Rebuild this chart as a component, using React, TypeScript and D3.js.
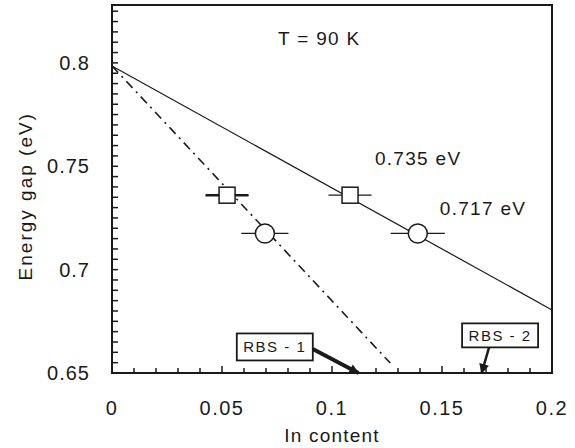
import React, { useEffect, useRef } from 'react';
import * as d3 from 'd3';

// fitted lines (In content, Energy gap)
const solidLine: [number, number][] = [[0, 0.7985], [0.2, 0.6805]];
const dashLine: [number, number][] = [[0, 0.7985], [0.1265, 0.6548]];

// measured points
const squareX = [0.0523, 0.1082];
const squareY = [0.736, 0.736];
const squareErr = [0.0098, 0.0098];
const circleX = [0.0695, 0.139];
const circleY = [0.7175, 0.7175];
const circleErr = [0.0107, 0.0123];

const xTicks = [0, 0.05, 0.1, 0.15, 0.2];
const yTicks = [0.65, 0.7, 0.75, 0.8];

const notes = [
  { text: 'T = 90 K', x: 0.0755, y: 0.8087 },
  { text: '0.735 eV', x: 0.1195, y: 0.7506 },
  { text: '0.717 eV', x: 0.149, y: 0.7264 },
];

const rbsLabels = ['RBS - 1', 'RBS - 2'];
const rbsBoxX = [0.074, 0.1764];
const rbsBoxY = [0.6626, 0.6682];
const rbsTipX = [0.112, 0.168];

function App() {
  const ref = useRef<SVGSVGElement>(null);

  useEffect(() => {
    const W = 575, H = 448;
    const margin = { top: 5, right: 23, bottom: 75, left: 112 };
    const width = W - margin.left - margin.right;
    const height = H - margin.top - margin.bottom;
    const font = 'Liberation Sans, Arial, sans-serif';
    const ink = '#1a1a1a';

    const svg = d3.select(ref.current);
    svg.selectAll('*').remove();

    const x = d3.scaleLinear().domain([0, 0.2]).range([0, width]);
    const y = d3.scaleLinear().domain([0.65, 0.828]).range([height, 0]);

    const defs = svg.append('defs');
    defs.append('marker')
      .attr('id', 'head')
      .attr('viewBox', '0 0 10 10')
      .attr('refX', 9).attr('refY', 5)
      .attr('markerWidth', 12).attr('markerHeight', 10)
      .attr('markerUnits', 'userSpaceOnUse')
      .attr('orient', 'auto')
      .append('path').attr('d', 'M0,0L10,5L0,10z').attr('fill', ink);

    const g = svg.append('g').attr('transform', `translate(${margin.left},${margin.top})`);

    // minor ticks
    const yMinor = d3.range(0.65, 0.8281, 0.005);
    g.selectAll('.ytick').data(yMinor).join('line')
      .attr('x1', 0).attr('x2', 6)
      .attr('y1', d => y(d)).attr('y2', d => y(d))
      .attr('stroke', ink).attr('stroke-width', 1.5);
    const xMinor = d3.range(0, 0.2001, 0.01);
    g.selectAll('.xtick').data(xMinor).join('line')
      .attr('x1', d => x(d)).attr('x2', d => x(d))
      .attr('y1', height).attr('y2', (d, i) => height - (i % 5 === 0 ? 7 : 5))
      .attr('stroke', ink).attr('stroke-width', 1.5);

    // frame
    g.append('rect')
      .attr('width', width).attr('height', height)
      .attr('fill', 'none').attr('stroke', ink).attr('stroke-width', 2);

    // tick labels
    g.selectAll('.ylab').data(yTicks).join('text')
      .attr('x', -22).attr('y', d => y(d)).attr('dy', '0.36em')
      .attr('text-anchor', 'end')
      .style('font-family', font).style('font-size', '20px').style('letter-spacing', '1px')
      .attr('fill', ink)
      .text(d => d3.format('')(d));
    g.selectAll('.xlab').data(xTicks).join('text')
      .attr('x', d => x(d)).attr('y', height + 42)
      .attr('text-anchor', 'middle')
      .style('font-family', font).style('font-size', '20px').style('letter-spacing', '1.5px')
      .attr('fill', ink)
      .text(d => d3.format('')(d));

    // axis titles
    g.append('text')
      .attr('x', x(0.1)).attr('y', height + 69)
      .attr('text-anchor', 'middle')
      .style('font-family', font).style('font-size', '19px').style('letter-spacing', '1.2px')
      .attr('fill', ink)
      .text('In content');
    g.append('text')
      .attr('transform', `translate(${32 - margin.left},${y(0.7355)}) rotate(-90)`)
      .attr('text-anchor', 'middle')
      .style('font-family', font).style('font-size', '19px').style('letter-spacing', '2px')
      .attr('fill', ink)
      .text('Energy gap (eV)');

    // lines
    const line = d3.line<[number, number]>().x(d => x(d[0])).y(d => y(d[1]));
    g.append('path').attr('d', line(solidLine))
      .attr('fill', 'none').attr('stroke', ink).attr('stroke-width', 1.2);
    g.append('path').attr('d', line(dashLine))
      .attr('fill', 'none').attr('stroke', ink).attr('stroke-width', 1.6)
      .attr('stroke-dasharray', '9,5,2,5');

    // error bars + squares
    squareX.forEach((v, i) => {
      g.append('line')
        .attr('x1', x(v - squareErr[i])).attr('x2', x(v + squareErr[i]))
        .attr('y1', y(squareY[i])).attr('y2', y(squareY[i]))
        .attr('stroke', ink).attr('stroke-width', i === 0 ? 2.5 : 1.2);
      g.append('rect')
        .attr('x', x(v) - 8).attr('y', y(squareY[i]) - 8)
        .attr('width', 16).attr('height', 16)
        .attr('fill', 'white').attr('stroke', ink).attr('stroke-width', 1.5);
    });
    circleX.forEach((v, i) => {
      g.append('line')
        .attr('x1', x(v - circleErr[i])).attr('x2', x(v + circleErr[i]))
        .attr('y1', y(circleY[i])).attr('y2', y(circleY[i]))
        .attr('stroke', ink).attr('stroke-width', 1.2);
      g.append('circle')
        .attr('cx', x(v)).attr('cy', y(circleY[i])).attr('r', 9.5)
        .attr('fill', 'white').attr('stroke', ink).attr('stroke-width', 1.5);
    });

    // annotations
    g.selectAll('.note').data(notes).join('text')
      .attr('x', d => x(d.x)).attr('y', d => y(d.y))
      .style('font-family', font).style('font-size', '19px').style('letter-spacing', '1.3px')
      .attr('fill', ink)
      .text(d => d.text);

    // RBS boxes and arrows
    const boxW = [76, 76], boxH = [27, 24];
    rbsLabels.forEach((label, i) => {
      const cx = x(rbsBoxX[i]), cy = y(rbsBoxY[i]);
      if (i === 0) {
        g.append('line')
          .attr('x1', cx + boxW[i] / 2).attr('y1', cy + 2)
          .attr('x2', x(rbsTipX[i])).attr('y2', y(0.65))
          .attr('stroke', ink).attr('stroke-width', 4)
          .attr('marker-end', 'url(#head)');
      } else {
        g.append('line')
          .attr('x1', cx - 11).attr('y1', cy + boxH[i] / 2)
          .attr('x2', x(rbsTipX[i])).attr('y2', y(0.65))
          .attr('stroke', ink).attr('stroke-width', 2.5)
          .attr('marker-end', 'url(#head)');
      }
      g.append('rect')
        .attr('x', cx - boxW[i] / 2).attr('y', cy - boxH[i] / 2)
        .attr('width', boxW[i]).attr('height', boxH[i])
        .attr('fill', 'white').attr('stroke', ink).attr('stroke-width', 1.8);
      g.append('text')
        .attr('x', cx).attr('y', cy).attr('dy', '0.36em')
        .attr('text-anchor', 'middle')
        .style('font-family', font).style('font-size', '15px').style('letter-spacing', '1.5px')
        .attr('fill', ink)
        .text(label);
    });
  }, []);

  return (
    <svg ref={ref} width={575} height={448}
      style={{ position: 'absolute', left: 0, top: 0, background: 'white' }} />
  );
}

export default App;
